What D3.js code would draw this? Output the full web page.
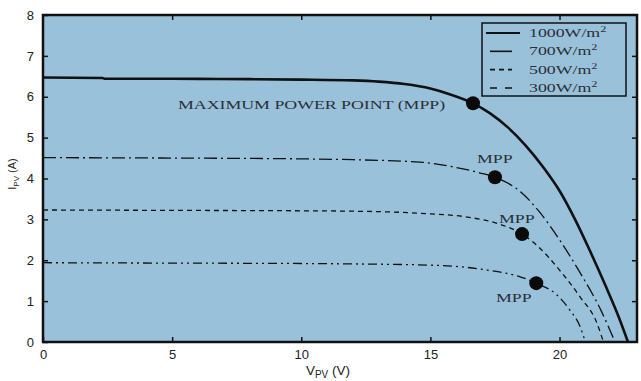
<!DOCTYPE html>
<html>
<head>
<meta charset="utf-8">
<script src="https://cdn.jsdelivr.net/npm/d3@7"></script>
<style>
  body { margin: 0; background: #fff; }
  svg { display: block; }
</style>
</head>
<body>
<div id="chart"></div>
<script>
// I-V curves, [V, I]
var curve1000 = [[0,6.47],[2.3,6.46],[2.4,6.44],[5,6.44],[8,6.43],[10,6.42],[12,6.40],[13,6.37],
  [14,6.31],[15,6.20],[15.8,6.05],[16.65,5.84],[17.3,5.60],[18,5.25],[18.7,4.80],[19.4,4.25],
  [20,3.70],[20.6,3.00],[21.2,2.20],[21.8,1.35],[22.3,0.60],[22.65,0]];
var curve700 = [[0,4.51],[5,4.5],[10,4.48],[12,4.46],[14.6,4.40],[16,4.27],[16.9,4.14],[17.5,4.03],
  [18.5,3.67],[19.2,3.2],[20.0,2.5],[20.8,1.69],[21.6,0.78],[22.15,0]];
var curve500 = [[0,3.23],[5,3.22],[10,3.21],[12,3.2],[14.6,3.15],[16.5,3.05],[17.7,2.88],[18.55,2.64],
  [19.2,2.32],[20.0,1.76],[20.8,1.1],[21.45,0.46],[21.7,0]];
var curve300 = [[0,1.94],[5,1.93],[10,1.92],[12,1.91],[15,1.88],[17.2,1.76],[18.5,1.59],[19.1,1.44],
  [19.9,1.15],[20.4,0.78],[20.8,0.37],[21.0,0]];

var series = ["1000", "700", "500", "300"];
var curves = [curve1000, curve700, curve500, curve300];
// maximum power points [V, I]
var mppPoints = [[16.65,5.84],[17.5,4.03],[18.55,2.64],[19.1,1.44]];

var xTicks = [0, 5, 10, 15, 20];
var yTicks = [0, 1, 2, 3, 4, 5, 6, 7, 8];

var width = 641, height = 381;
var pLeft = 43, pRight = 637, pTop = 15, pBottom = 342; // plot box

var x = d3.scaleLinear().domain([0, 23]).range([pLeft, pRight]);
var y = d3.scaleLinear().domain([0, 8]).range([pBottom, pTop]);

var svg = d3.select('#chart').append('svg')
  .attr('width', width)
  .attr('height', height);

svg.append('rect')
  .attr('x', pLeft).attr('y', pTop)
  .attr('width', pRight - pLeft).attr('height', pBottom - pTop)
  .attr('fill', '#9ac1da');

svg.append('clipPath').attr('id', 'clip')
  .append('rect')
  .attr('x', pLeft).attr('y', pTop)
  .attr('width', pRight - pLeft).attr('height', pBottom - pTop);

var styles = [
  {w: 2.6, dash: null},
  {w: 1.3, dash: '13,4,2,4'},
  {w: 1.3, dash: '5,4'},
  {w: 1.3, dash: '9,4,2,4,2,4'}
];

var line = d3.line()
  .x(function (d) { return x(d[0]); })
  .y(function (d) { return y(d[1]); })
  .curve(d3.curveMonotoneX);

svg.append('g').attr('clip-path', 'url(#clip)')
  .selectAll('path')
  .data(curves)
  .enter()
  .append('path')
  .attr('d', line)
  .attr('fill', 'none')
  .attr('stroke', '#111')
  .attr('stroke-width', function (d, i) { return styles[i].w; })
  .attr('stroke-dasharray', function (d, i) { return styles[i].dash; });

svg.selectAll('.mpp')
  .data(mppPoints)
  .enter()
  .append('circle')
  .attr('class', 'mpp')
  .attr('cx', function (d) { return x(d[0]); })
  .attr('cy', function (d) { return y(d[1]); })
  .attr('r', 7)
  .attr('fill', '#0a0a0a');

// annotations (the serif text in the source is stretched sideways)
var serif = "'Liberation Serif', 'Times New Roman', serif";
var stretch = 1.37;
var notes = [
  {t: 'MAXIMUM POWER POINT (MPP)', x: 178, y: 109},
  {t: 'MPP', x: 477, y: 163},
  {t: 'MPP', x: 499, y: 223},
  {t: 'MPP', x: 496, y: 302}
];
svg.selectAll('.note')
  .data(notes)
  .enter()
  .append('text')
  .attr('class', 'note')
  .attr('transform', function (d) { return 'translate(' + d.x + ',' + d.y + ') scale(' + stretch + ',1)'; })
  .attr('font-family', serif)
  .attr('font-size', 13)
  .attr('fill', '#2a2f36')
  .text(function (d) { return d.t; });

// axes (ticks pointing inward on all four sides)
var sans = "'Liberation Sans', Arial, sans-serif";
var axLeft = svg.append('g').attr('transform', 'translate(' + pLeft + ',0)')
  .call(d3.axisLeft(y).tickValues(yTicks).tickSize(-5).tickPadding(9));
var axBottom = svg.append('g').attr('transform', 'translate(0,' + pBottom + ')')
  .call(d3.axisBottom(x).tickValues(xTicks).tickSize(-5).tickPadding(8));
var axTop = svg.append('g').attr('transform', 'translate(0,' + pTop + ')')
  .call(d3.axisTop(x).tickValues(xTicks.slice(1)).tickSize(-5).tickFormat(''));
var axRight = svg.append('g').attr('transform', 'translate(' + pRight + ',0)')
  .call(d3.axisRight(y).tickValues(yTicks.slice(1, 8)).tickSize(-5).tickFormat(''));

[axLeft, axBottom, axTop, axRight].forEach(function (g) {
  g.select('.domain').remove();
  g.selectAll('line').attr('stroke', '#111').attr('stroke-width', 1.5);
  g.selectAll('text').attr('font-family', sans).attr('font-size', 13).attr('fill', '#222');
});

// frame
svg.append('rect')
  .attr('x', pLeft).attr('y', pTop)
  .attr('width', pRight - pLeft).attr('height', pBottom - pTop)
  .attr('fill', 'none')
  .attr('stroke', '#111')
  .attr('stroke-width', 2.5);

// axis titles
var xt = svg.append('text')
  .attr('x', 328).attr('y', 375)
  .attr('text-anchor', 'middle')
  .attr('font-family', sans).attr('font-size', 13.5).attr('fill', '#222');
xt.append('tspan').text('V');
xt.append('tspan').attr('font-size', 10).attr('dy', 3).text('PV');
xt.append('tspan').attr('dy', -3).text(' (V)');

var yt = svg.append('text')
  .attr('transform', 'translate(16,174) rotate(-90)')
  .attr('text-anchor', 'middle')
  .attr('font-family', sans).attr('font-size', 11).attr('fill', '#222');
yt.append('tspan').text('I');
yt.append('tspan').attr('font-size', 8).attr('dy', 2.5).text('PV');
yt.append('tspan').attr('dy', -2.5).text(' (A)');

// legend
var legend = svg.append('g');
legend.append('rect')
  .attr('x', 482).attr('y', 23)
  .attr('width', 144).attr('height', 73)
  .attr('fill', 'none')
  .attr('stroke', '#111')
  .attr('stroke-width', 1.5);

var legendDash = [null, null, '5,4', '7,8'];
var legendY = d3.scalePoint().domain(series).range([33, 88]);

var item = legend.selectAll('.item')
  .data(series)
  .enter()
  .append('g')
  .attr('class', 'item')
  .attr('transform', function (d) { return 'translate(0,' + legendY(d) + ')'; });

item.append('line')
  .attr('x1', function (d, i) { return i === 0 ? 486 : 490; })
  .attr('x2', function (d, i) { return i === 0 ? 520 : 512; })
  .attr('stroke', '#111')
  .attr('stroke-width', function (d, i) { return i === 0 ? 2 : 1.6; })
  .attr('stroke-dasharray', function (d, i) { return legendDash[i]; });

var lt = item.append('text')
  .attr('transform', 'translate(529,4) scale(' + stretch + ',1)')
  .attr('font-family', serif).attr('font-size', 13).attr('fill', '#2a2f36');
lt.append('tspan').text(function (d) { return d + 'W/m'; });
lt.append('tspan').attr('font-size', 9).attr('dy', -5).text('2');
</script>
</body>
</html>
